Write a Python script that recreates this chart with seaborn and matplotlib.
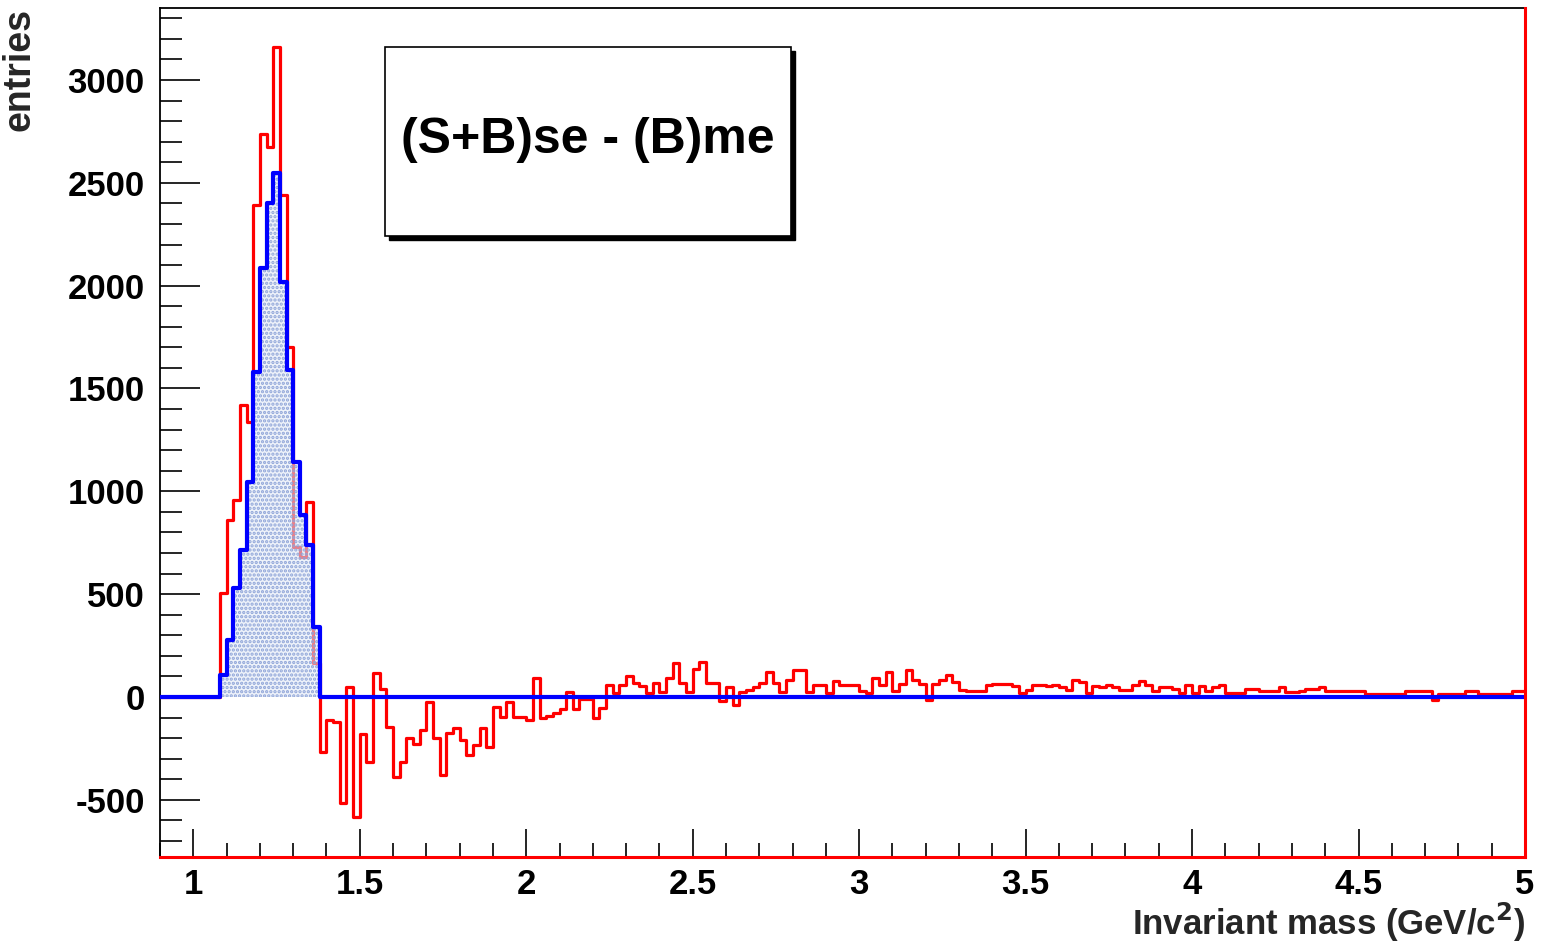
import numpy as np
import pandas as pd
import matplotlib
matplotlib.use("Agg")
import matplotlib.pyplot as plt
import seaborn as sns
from matplotlib.patches import Rectangle
from matplotlib.ticker import MultipleLocator, FormatStrFormatter

# ---------------- data ----------------
bin_width = 0.02
first_edge = 1.08          # first filled bin (GeV/c^2)
x_min, x_max = 0.9, 5.0

# (S+B)se - (B)me, red histogram, bins of 0.02 starting at 1.08
red_peak = [505, 860, 958, 1420, 1337, 2390, 2737, 2674, 3160, 2440,
            1700, 730, 680, 950, 165]
red_dip = [-266, -112, -120, -516, 49, -583, -180, -315, 115, 39,
           -147, -388, -315, -200, -228, -160, -24, -199, -380, -175,
           -152, -209, -282, -233, -152, -242, -47, -97, -24, -97,
           -97, -112]
red_mid = [92, -102, -92, -79, -59, 24, -59, -10, -10, -102,
           -55, 58, 19, 58, 102, 68, 55, 19, 70, 23,
           92, 165, 70, 23, 136, 170, 70, 70, -19, 50,
           -39, 24, 36, 50, 70, 120, 68, 23]
red_tail1 = [84, 133, 133, 24, 60, 60, 19, 78, 60, 60,
             60, 28, 19, 94, 60, 121, 29, 65, 133, 84,
             65, -13, 65, 84, 108, 73, 36, 28, 28, 28,
             60, 65, 65, 65, 52, 19, 36, 60, 60, 52,
             60, 49, 32, 81, 73, 19, 52, 49, 60, 49,
             32, 32, 57]
red_tail2 = [78, 57, 29, 49, 49, 40, 21, 60, 19, 52,
             29, 49, 60, 19, 19, 19, 37, 37, 28, 28,
             28, 49, 24, 24, 29, 37, 37, 49, 28, 28,
             28, 28, 28, 28, 16, 16, 16, 16, 16, 16,
             28, 28, 28, 28, -13, 16, 16, 16, 16, 28,
             28, 16, 16, 16, 16, 16, 28, 28]

# signal (blue) histogram, same binning starting at 1.08
blue_peak = [107, 277, 530, 715, 1045, 1580, 2085, 2400, 2547, 2017,
             1590, 1142, 885, 740, 340]

y_ticks = [-500, 0, 500, 1000, 1500, 2000, 2500, 3000]
x_ticks = [1, 1.5, 2, 2.5, 3, 3.5, 4, 4.5, 5]
box_text = "(S+B)se - (B)me"
x_label = "Invariant mass (GeV/c$^{\\mathbf{2}}$)"
y_label = "entries"

# ---------------- build histogram tables ----------------
red_vals = np.array(red_peak + red_dip + red_mid + red_tail1 + red_tail2, float)
red_edges = np.round(first_edge + bin_width * np.arange(len(red_vals) + 1), 4)
# leading empty bin so the step rises from zero at 1.08
red_edges = np.concatenate([[x_min], red_edges])
red_vals = np.concatenate([[0.0], red_vals])
red_df = pd.DataFrame({"mass": 0.5 * (red_edges[:-1] + red_edges[1:]),
                       "entries": red_vals})

blue_vals = np.array(blue_peak, float)
blue_edges = np.round(first_edge + bin_width * np.arange(len(blue_vals) + 1), 4)
blue_edges = np.concatenate([[x_min], blue_edges, [x_max]])
blue_vals = np.concatenate([[0.0], blue_vals, [0.0]])
blue_df = pd.DataFrame({"mass": 0.5 * (blue_edges[:-1] + blue_edges[1:]),
                        "entries": blue_vals})

# ---------------- style ----------------
sns.set_style("white")
plt.rcParams["font.family"] = ["Liberation Sans", "DejaVu Sans"]
plt.rcParams["font.weight"] = "bold"
plt.rcParams["mathtext.default"] = "bf"
plt.rcParams["axes.unicode_minus"] = False
plt.rcParams["hatch.linewidth"] = 1.6

W, H = 1543, 947
fig = plt.figure(figsize=(W / 100, H / 100), dpi=100)
L, R, T, B = 160, 1525, 8, 857
ax = fig.add_axes([L / W, 1 - B / H, (R - L) / W, (B - T) / H])

# red: same-event minus mixed-event
sns.histplot(data=red_df, x="mass", weights="entries", bins=list(red_edges),
             element="step", fill=False, color="#ff0000", linewidth=2.3,
             ax=ax, zorder=3)
# blue: dotted fill
sns.histplot(data=blue_df, x="mass", weights="entries", bins=list(blue_edges),
             element="step", fill=True, facecolor=(0.88, 0.91, 0.97, 0.55),
             edgecolor="#8ea4d8", hatch="....", linewidth=0,
             ax=ax, zorder=4)
# blue outline
sns.histplot(data=blue_df, x="mass", weights="entries", bins=list(blue_edges),
             element="step", fill=False, color="#0000ff", linewidth=3.0,
             ax=ax, zorder=5)

ax.set_xlim(x_min, x_max)
ax.set_ylim(-778, 3350)

ax.set_xticks(x_ticks)
ax.set_yticks(y_ticks)
ax.xaxis.set_major_formatter(FormatStrFormatter("%g"))
ax.xaxis.set_minor_locator(MultipleLocator(0.1))
ax.yaxis.set_minor_locator(MultipleLocator(100))
ax.tick_params(axis="both", which="both", direction="in", colors="black",
               labelsize=25, width=1.2, bottom=True, left=True,
               top=False, right=False)
ax.tick_params(axis="x", which="major", length=20, pad=8)
ax.tick_params(axis="x", which="minor", length=10)
ax.tick_params(axis="y", which="major", length=29, pad=11)
ax.tick_params(axis="y", which="minor", length=16)
for lab in ax.get_xticklabels() + ax.get_yticklabels():
    lab.set_fontweight("bold")

for side in ["left", "top"]:
    ax.spines[side].set_color("black")
    ax.spines[side].set_linewidth(1.3)
for side in ["right", "bottom"]:
    ax.spines[side].set_color("#ff0000")
    ax.spines[side].set_linewidth(2.2)
    ax.spines[side].set_zorder(6)

ax.set_xlabel(x_label, fontsize=25, fontweight="bold", loc="right")
ax.xaxis.set_label_coords(1.0, -0.052)
ax.xaxis.label.set_va("top")
ax.set_ylabel(y_label, fontsize=27, fontweight="bold", loc="top")
ax.yaxis.set_label_coords(-0.090, 1.0)

# text box with ROOT-like shadow
bx0, by0, bx1, by1 = 385, 47, 791, 236
sh = 4
fig.patches.append(Rectangle(((bx0 + sh) / W, 1 - (by1 + sh) / H),
                             (bx1 - bx0) / W, (by1 - by0) / H,
                             transform=fig.transFigure, facecolor="black",
                             edgecolor="black", zorder=10))
fig.patches.append(Rectangle((bx0 / W, 1 - by1 / H),
                             (bx1 - bx0) / W, (by1 - by0) / H,
                             transform=fig.transFigure, facecolor="white",
                             edgecolor="black", linewidth=1.2, zorder=11))
fig.text((bx0 + bx1) / 2 / W, 1 - 140 / H, box_text, fontsize=36,
         fontweight="bold", ha="center", va="center", zorder=12,
         color="black")

fig.savefig("out.png", dpi=100)
